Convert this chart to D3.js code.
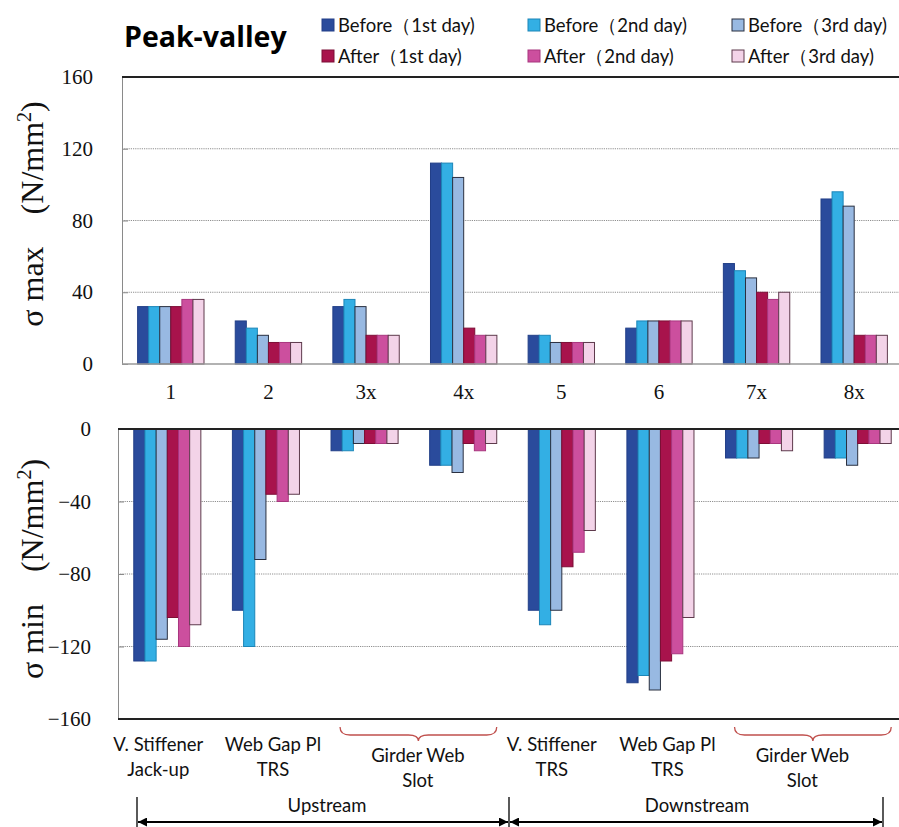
<!DOCTYPE html>
<html>
<head>
<meta charset="utf-8">
<script src="https://cdn.jsdelivr.net/npm/d3@7/dist/d3.min.js"></script>
<style>
  html, body { margin: 0; padding: 0; background: #fff; }
  svg { display: block; }
</style>
</head>
<body>
<svg id="chart" width="899" height="827"></svg>
<script>
// Welding details along the girder
const categories = ["1", "2", "3x", "4x", "5", "6", "7x", "8x"];
const seriesNames = [
  "Before（1st day)", "Before（2nd day)", "Before（3rd day)",
  "After（1st day)", "After（2nd day)", "After（3rd day)"
];

// σ max (N/mm²) per detail
const maxBefore1st = [32, 24, 32, 112, 16, 20, 56, 92];
const maxBefore2nd = [32, 20, 36, 112, 16, 24, 52, 96];
const maxBefore3rd = [32, 16, 32, 104, 12, 24, 48, 88];
const maxAfter1st  = [32, 12, 16, 20, 12, 24, 40, 16];
const maxAfter2nd  = [36, 12, 16, 16, 12, 24, 36, 16];
const maxAfter3rd  = [36, 12, 16, 16, 12, 24, 40, 16];

// σ min (N/mm²) per detail
const minBefore1st = [-128, -100, -12, -20, -100, -140, -16, -16];
const minBefore2nd = [-128, -120, -12, -20, -108, -136, -16, -16];
const minBefore3rd = [-116, -72, -8, -24, -100, -144, -16, -20];
const minAfter1st  = [-104, -36, -8, -8, -76, -128, -8, -8];
const minAfter2nd  = [-120, -40, -8, -12, -68, -124, -8, -8];
const minAfter3rd  = [-108, -36, -8, -8, -56, -104, -12, -8];

const maxTicks = [0, 40, 80, 120, 160];
const minTicks = [0, -40, -80, -120, -160];

// Detail descriptions under the lower panel
const detailLabels = [
  ["V. Stiffener", "Jack-up"], ["Web Gap Pl", "TRS"], ["Girder Web", "Slot"],
  ["V. Stiffener", "TRS"], ["Web Gap Pl", "TRS"], ["Girder Web", "Slot"]
];
const sideLabels = ["Upstream", "Downstream"];

const maxSeries = [maxBefore1st, maxBefore2nd, maxBefore3rd, maxAfter1st, maxAfter2nd, maxAfter3rd];
const minSeries = [minBefore1st, minBefore2nd, minBefore3rd, minAfter1st, minAfter2nd, minAfter3rd];

const fills   = ["#2a4b9c", "#33afe4", "#98b9e2", "#a8134c", "#cc4f9e", "#f3d3e8"];
const strokes = ["#223f88", "#1c86b8", "#2a3040", "#7d0e36", "#a8367e", "#5e3a4c"];

const svg = d3.select("#chart");
const serif = "'Liberation Serif', 'Times New Roman', serif";
const sans = "Lato, 'Open Sans', sans-serif";

function panel(opts) {
  const { series, ticks, domain, xRange, yRange, zeroAtTop } = opts;
  const x = d3.scaleBand().domain(categories).range(xRange).paddingInner(0.32).paddingOuter(0.16);
  const xs = d3.scaleBand().domain(d3.range(series.length)).range([0, x.bandwidth()]).padding(0);
  const y = d3.scaleLinear().domain(domain).range(yRange);
  const g = svg.append("g");
  const left = xRange[0];

  // dotted grid
  g.selectAll("line.grid").data(ticks.filter(t => t !== domain[0] && t !== domain[1] && t !== 0))
    .join("line")
    .attr("x1", left).attr("x2", 899)
    .attr("y1", d => y(d)).attr("y2", d => y(d))
    .attr("stroke", "#8f8f8f").attr("stroke-width", 1).attr("stroke-dasharray", "1.2,1");

  // bars
  series.forEach((vals, si) => {
    g.selectAll(null).data(vals).join("rect")
      .attr("x", (d, i) => x(categories[i]) + xs(si))
      .attr("width", xs.bandwidth())
      .attr("y", d => Math.min(y(d), y(0)))
      .attr("height", d => Math.abs(y(d) - y(0)))
      .attr("fill", fills[si])
      .attr("stroke", strokes[si]).attr("stroke-width", 1);
  });

  // y axis
  const axis = d3.axisLeft(y).tickValues(ticks).tickSizeInner(-6).tickSizeOuter(0).tickPadding(opts.pad);
  const ax = g.append("g").attr("transform", `translate(${left},0)`).call(axis);
  ax.select(".domain").attr("stroke", "#8a8a8a");
  ax.selectAll(".tick line").attr("stroke", "#8a8a8a");
  ax.selectAll(".tick text").attr("font-family", serif).attr("font-size", 21).attr("fill", "#111");

  // frame lines: black at top / bottom edges, gray baseline on the upper panel
  if (zeroAtTop) {
    g.append("line").attr("x1", left).attr("x2", 899).attr("y1", y(0)).attr("y2", y(0))
      .attr("stroke", "#222").attr("stroke-width", 2);
    g.append("line").attr("x1", left).attr("x2", 899).attr("y1", y(domain[0])).attr("y2", y(domain[0]))
      .attr("stroke", "#222").attr("stroke-width", 2);
  } else {
    g.append("line").attr("x1", left).attr("x2", 899).attr("y1", y(domain[1])).attr("y2", y(domain[1]))
      .attr("stroke", "#222").attr("stroke-width", 2);
    g.append("line").attr("x1", left).attr("x2", 899).attr("y1", y(0)).attr("y2", y(0))
      .attr("stroke", "#999").attr("stroke-width", 1.5);
  }
  return { x, y, g };
}

// upper panel: σ max
const upper = panel({
  series: maxSeries, ticks: maxTicks, domain: [0, 160],
  xRange: [122, 903], yRange: [364, 77], zeroAtTop: false, pad: 29
});
// category labels between the panels
svg.append("g").selectAll("text").data(categories).join("text")
  .attr("x", d => upper.x(d) + upper.x.bandwidth() / 2)
  .attr("y", 399)
  .attr("text-anchor", "middle")
  .attr("font-family", serif).attr("font-size", 21).attr("fill", "#111")
  .text(d => d);

// lower panel: σ min
const lower = panel({
  series: minSeries, ticks: minTicks, domain: [-160, 0],
  xRange: [118, 907], yRange: [719, 429], zeroAtTop: true, pad: 27
});

// axis titles
function yTitle(cx, cy, word) {
  const t = svg.append("text")
    .attr("transform", `translate(${cx},${cy}) rotate(-90)`)
    .attr("text-anchor", "middle")
    .attr("font-family", serif).attr("font-size", 32).attr("fill", "#111");
  t.append("tspan").text(`σ ${word}\u2003(N/mm`);
  t.append("tspan").attr("font-size", 20).attr("dy", -12).text("2");
  t.append("tspan").attr("dy", 12).text(")");
}
yTitle(43, 214, "max");
yTitle(43, 569, "min");

// title
svg.append("text").attr("x", 124).attr("y", 47)
  .attr("font-family", "'Open Sans', sans-serif").attr("font-weight", 700).attr("font-size", 28.5)
  .attr("fill", "#000").text("Peak-valley");

// legend
const legendCols = [322, 528, 732];
const legendRows = [19, 50];
seriesNames.forEach((name, i) => {
  const cx = legendCols[i % 3], cy = legendRows[Math.floor(i / 3)];
  svg.append("rect").attr("x", cx).attr("y", cy).attr("width", 12).attr("height", 12)
    .attr("fill", fills[i]).attr("stroke", strokes[i]).attr("stroke-width", 1);
  svg.append("text").attr("x", cx + 16).attr("y", cy + 13)
    .attr("font-family", sans).attr("font-size", 18.5).attr("fill", "#111").text(name);
});

// detail descriptions (Girder Web Slot spans two details)
const bx = lower.x, bw = bx.bandwidth();
const cen = c => bx(c) + bw / 2;
const labelCenters = [
  cen("1") - 9, cen("2") + 7, (cen("3x") + cen("4x")) / 2 + 4,
  cen("5") - 10, cen("6") + 7, (cen("7x") + cen("8x")) / 2 - 6
];
const labelTops = [751, 751, 762, 751, 751, 762];
detailLabels.forEach((lines, i) => {
  lines.forEach((ln, j) => {
    svg.append("text").attr("x", labelCenters[i]).attr("y", labelTops[i] + j * 25)
      .attr("text-anchor", "middle")
      .attr("font-family", sans).attr("font-size", 18.5).attr("fill", "#111").text(ln);
  });
});

// braces over the girder-web-slot pairs
function brace(x1, x2, y0) {
  const m = (x1 + x2) / 2, y1 = y0 + 8, y2 = y0 + 14, r = 10;
  return `M${x1},${y0} Q${x1},${y1} ${x1 + r},${y1} L${m - r},${y1} Q${m},${y1} ${m},${y2}` +
         ` Q${m},${y1} ${m + r},${y1} L${x2 - r},${y1} Q${x2},${y1} ${x2},${y0}`;
}
[["3x", "4x"], ["7x", "8x"]].forEach(([a, b]) => {
  svg.append("path").attr("d", brace(bx(a) + 9, bx(b) + bw, 727))
    .attr("fill", "none").attr("stroke", "#c0504d").attr("stroke-width", 1.3);
});

// Upstream / Downstream extents
const defs = svg.append("defs");
defs.append("marker").attr("id", "ah").attr("viewBox", "0 0 10 10")
  .attr("refX", 10).attr("refY", 5).attr("markerWidth", 11).attr("markerHeight", 9)
  .attr("markerUnits", "userSpaceOnUse").attr("orient", "auto-start-reverse")
  .append("path").attr("d", "M0,0 L10,5 L0,10 Z").attr("fill", "#000");
const bounds = [137, 509, 883];
bounds.forEach(bxv => {
  svg.append("line").attr("x1", bxv).attr("x2", bxv).attr("y1", 797).attr("y2", 827)
    .attr("stroke", "#000").attr("stroke-width", 1.3);
});
sideLabels.forEach((name, i) => {
  const a = bounds[i], b = bounds[i + 1];
  svg.append("line").attr("x1", a + 1).attr("x2", b - 1).attr("y1", 822).attr("y2", 822)
    .attr("stroke", "#000").attr("stroke-width", 2)
    .attr("marker-start", "url(#ah)").attr("marker-end", "url(#ah)");
  svg.append("text").attr("x", (a + b) / 2 + (i === 0 ? 4 : 1)).attr("y", 812)
    .attr("text-anchor", "middle")
    .attr("font-family", sans).attr("font-size", 18.5).attr("fill", "#111").text(name);
});
</script>
</body>
</html>
